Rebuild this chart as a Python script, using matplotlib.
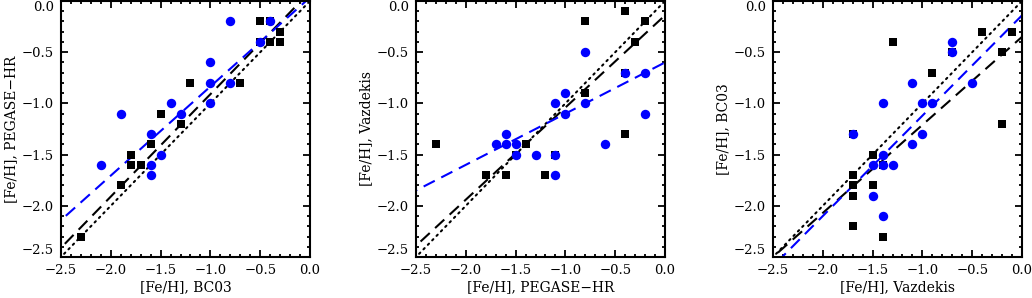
import numpy as np
import matplotlib
matplotlib.use("Agg")
import matplotlib.pyplot as plt
from matplotlib.ticker import MultipleLocator

plt.rcParams['font.family'] = ['DejaVu Serif']
plt.rcParams['axes.unicode_minus'] = True

# panel 1: BC03 vs PEGASE-HR
p1_sq_x = [-2.3, -1.9, -1.8, -1.8, -1.7, -1.6, -1.5, -1.3, -1.2, -0.7, -0.5, -0.5, -0.4, -0.4, -0.3, -0.3]
p1_sq_y = [-2.3, -1.8, -1.5, -1.6, -1.6, -1.4, -1.1, -1.2, -0.8, -0.8, -0.2, -0.4, -0.4, -0.2, -0.3, -0.4]
p1_ci_x = [-2.1, -1.9, -1.6, -1.6, -1.6, -1.5, -1.4, -1.3, -1.0, -1.0, -1.0, -0.8, -0.8, -0.5, -0.4]
p1_ci_y = [-1.6, -1.1, -1.3, -1.6, -1.7, -1.5, -1.0, -1.1, -0.6, -0.8, -1.0, -0.2, -0.8, -0.4, -0.2]

# panel 2: PEGASE-HR vs Vazdekis
p2_sq_x = [-2.3, -1.8, -1.6, -1.5, -1.4, -1.2, -1.1, -0.8, -0.8, -0.4, -0.4, -0.4, -0.3, -0.2]
p2_sq_y = [-1.4, -1.7, -1.7, -1.5, -1.4, -1.7, -1.5, -0.2, -0.9, -0.1, -0.7, -1.3, -0.4, -0.2]
p2_ci_x = [-1.7, -1.6, -1.6, -1.5, -1.5, -1.3, -1.1, -1.1, -1.1, -1.0, -1.0, -0.8, -0.8, -0.6, -0.4, -0.2, -0.2]
p2_ci_y = [-1.4, -1.3, -1.4, -1.4, -1.5, -1.5, -1.5, -1.7, -1.0, -0.9, -1.1, -0.5, -1.0, -1.4, -0.7, -0.7, -1.1]

# panel 3: Vazdekis vs BC03
p3_sq_x = [-1.7, -1.7, -1.7, -1.7, -1.7, -1.5, -1.5, -1.4, -1.4, -1.3, -0.9, -0.7, -0.4, -0.2, -0.2, -0.1]
p3_sq_y = [-1.3, -1.7, -1.8, -1.9, -2.2, -1.5, -1.8, -1.6, -2.3, -0.4, -0.7, -0.5, -0.3, -0.5, -1.2, -0.3]
p3_ci_x = [-1.7, -1.5, -1.5, -1.4, -1.4, -1.4, -1.4, -1.3, -1.1, -1.1, -1.0, -1.0, -0.9, -0.7, -0.7, -0.5]
p3_ci_y = [-1.3, -1.6, -1.9, -1.0, -1.5, -1.6, -2.1, -1.6, -0.8, -1.4, -1.0, -1.3, -1.0, -0.4, -0.5, -0.8]

# fitted lines (slope, intercept)
fit_black = [(1.00, 0.09), (0.90, -0.14), (0.86, -0.35)]
fit_blue = [(0.87, 0.035), (0.50, -0.60), (0.98, -0.14)]

ticks = [-2.5, -2.0, -1.5, -1.0, -0.5, 0.0]
ticklabels = ['\u22122.5', '\u22122.0', '\u22121.5', '\u22121.0', '\u22120.5', '0.0']

xlabels = ['[Fe/H], BC03', '[Fe/H], PEGASE\u2212HR', '[Fe/H], Vazdekis']
ylabels = ['[Fe/H], PEGASE\u2212HR', '[Fe/H], Vazdekis', '[Fe/H], BC03']

squares = [(p1_sq_x, p1_sq_y), (p2_sq_x, p2_sq_y), (p3_sq_x, p3_sq_y)]
circles = [(p1_ci_x, p1_ci_y), (p2_ci_x, p2_ci_y), (p3_ci_x, p3_ci_y)]

fig = plt.figure(figsize=(10.32, 2.98), dpi=100)
lefts = [61 / 1032, 416 / 1032, 773 / 1032]
W, H = 249 / 1032, 256 / 298
B = 41 / 298

xx = np.linspace(-2.6, 0.1, 50)
for i in range(3):
    ax = fig.add_axes([lefts[i], B, W, H])
    ax.set_xlim(-2.5, 0.0)
    ax.set_ylim(-2.5, 0.0)
    ax.plot(xx, xx, color='black', lw=1.5, linestyle=(0, (0.8, 2.2)), dash_capstyle='round')
    m, c = fit_black[i]
    ax.plot(xx, m * xx + c, color='black', lw=1.5, linestyle=(0, (6, 3.5)))
    m, c = fit_blue[i]
    ax.plot(xx, m * xx + c, color='#0000ff', lw=1.5, linestyle=(0, (6, 3.5)))
    ax.scatter(squares[i][0], squares[i][1], marker='s', s=38, color='black', zorder=3, linewidths=0)
    ax.scatter(circles[i][0], circles[i][1], marker='o', s=46, color='#0000ff', zorder=4, linewidths=0)

    ax.set_xticks(ticks, ticklabels)
    ax.set_yticks(ticks, ticklabels)
    ax.xaxis.set_minor_locator(MultipleLocator(0.1))
    ax.yaxis.set_minor_locator(MultipleLocator(0.1))
    ax.tick_params(which='both', direction='in', top=True, right=True, width=1.3, colors='black')
    ax.tick_params(which='major', length=5, labelsize=9.5, pad=5)
    ax.tick_params(which='minor', length=2.5)
    ylabs = ax.get_yticklabels()
    ylabs[0].set_va('bottom')
    ylabs[-1].set_va('top')
    for s in ax.spines.values():
        s.set_linewidth(1.5)
    ax.set_xlabel(xlabels[i], fontsize=10, labelpad=2)
    ax.set_ylabel(ylabels[i], fontsize=10, labelpad=3)

fig.savefig('out.png', dpi=100)
